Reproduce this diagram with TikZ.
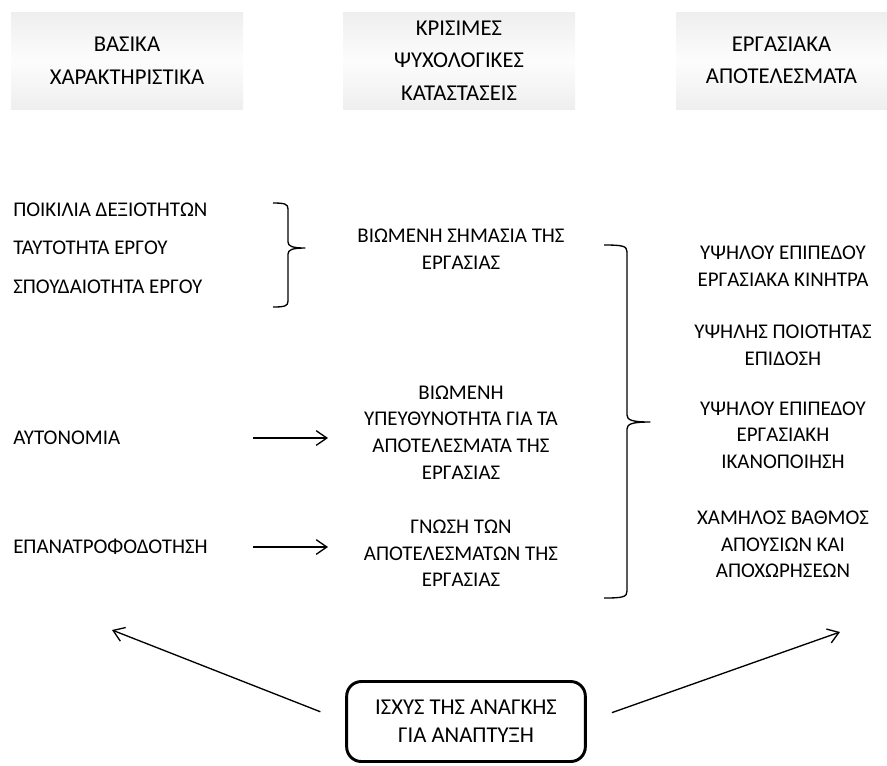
\documentclass[tikz,border=0pt]{standalone}
\usepackage{fontspec}
\setmainfont{Carlito}
\usetikzlibrary{arrows.meta}
\begin{document}
\begin{tikzpicture}[x=0.75pt,y=-0.75pt,
	every node/.style={font=\fontsize{15.7}{20}\selectfont,inner sep=0pt},
	hdr/.style={minimum width=174pt,minimum height=72.75pt,top color=gray!13,bottom color=gray!13,middle color=gray!2},
	htxt/.style={align=center,font=\fontsize{17}{24.4}\selectfont},
	lbl/.style={anchor=west},
	txt/.style={align=center},
	arr/.style={-{Straight Barb[length=8pt,width=11pt]},line width=1pt},
	brc/.style={line width=1pt,line join=round}]
	\useasboundingbox (0,0) rectangle (887,765);
	% Επικεφαλίδες
	\node[hdr] (hbas) at (127,60.5) {};
	\node[hdr] (hkri) at (459,60.5) {};
	\node[hdr,minimum width=158.25pt] (herg) at (781.5,60.5) {};
	\node[htxt] (tbas) at (hbas) {ΒΑΣΙΚΑ\\ΧΑΡΑΚΤΗΡΙΣΤΙΚΑ};
	\node[htxt] (tkri) at (hkri) {ΚΡΙΣΙΜΕΣ\\ΨΥΧΟΛΟΓΙΚΕΣ\\ΚΑΤΑΣΤΑΣΕΙΣ};
	\node[htxt] (terg) at (herg) {ΕΡΓΑΣΙΑΚΑ\\ΑΠΟΤΕΛΕΣΜΑΤΑ};
	% Βασικά χαρακτηριστικά
	\node[lbl] (poik) at (13,210) {ΠΟΙΚΙΛΙΑ ΔΕΞΙΟΤΗΤΩΝ};
	\node[lbl] (tayt) at (13,248) {ΤΑΥΤΟΤΗΤΑ ΕΡΓΟΥ};
	\node[lbl] (spou) at (13,287) {ΣΠΟΥΔΑΙΟΤΗΤΑ ΕΡΓΟΥ};
	\node[lbl] (ayto) at (13,438) {ΑΥΤΟΝΟΜΙΑ};
	\node[lbl] (epan) at (13,547) {ΕΠΑΝΑΤΡΟΦΟΔΟΤΗΣΗ};
	% Ψυχολογικές καταστάσεις
	\node[txt] (shma) at (461,249) {ΒΙΩΜΕΝΗ ΣΗΜΑΣΙΑ ΤΗΣ\\ΕΡΓΑΣΙΑΣ};
	\node[txt] (ypey) at (461,432.5) {ΒΙΩΜΕΝΗ\\ΥΠΕΥΘΥΝΟΤΗΤΑ ΓΙΑ ΤΑ\\ΑΠΟΤΕΛΕΣΜΑΤΑ ΤΗΣ\\ΕΡΓΑΣΙΑΣ};
	\node[txt] (gnos) at (461,553.5) {ΓΝΩΣΗ ΤΩΝ\\ΑΠΟΤΕΛΕΣΜΑΤΩΝ ΤΗΣ\\ΕΡΓΑΣΙΑΣ};
	% Αποτελέσματα
	\node[txt] (kin) at (783,266.5) {ΥΨΗΛΟΥ ΕΠΙΠΕΔΟΥ\\ΕΡΓΑΣΙΑΚΑ ΚΙΝΗΤΡΑ};
	\node[txt] (epi) at (783,345) {ΥΨΗΛΗΣ ΠΟΙΟΤΗΤΑΣ\\ΕΠΙΔΟΣΗ};
	\node[txt] (ikan) at (783,435) {ΥΨΗΛΟΥ ΕΠΙΠΕΔΟΥ\\ΕΡΓΑΣΙΑΚΗ\\ΙΚΑΝΟΠΟΙΗΣΗ};
	\node[txt] (apou) at (783,544.5) {ΧΑΜΗΛΟΣ ΒΑΘΜΟΣ\\ΑΠΟΥΣΙΩΝ ΚΑΙ\\ΑΠΟΧΩΡΗΣΕΩΝ};
	% Ανάγκη για ανάπτυξη
	\node[draw,line width=2.2pt,rounded corners=11pt,minimum width=179pt,minimum height=60pt] (anag) at (466,721.5) {};
	\node[txt,font=\fontsize{17}{21}\selectfont] (tanag) at (anag) {ΙΣΧΥΣ ΤΗΣ ΑΝΑΓΚΗΣ\\ΓΙΑ ΑΝΑΠΤΥΞΗ};
	% Άγκιστρα
	\draw[brc] (273,203) .. controls (285,203) and (288,204) .. (288,209) -- (288,242)
		.. controls (288,246) and (292,248) .. (305,248) .. controls (292,248) and (288,250) .. (288,254)
		-- (288,301) .. controls (288,306) and (285,307) .. (273,307);
	\draw[brc] (604,245) .. controls (623,245) and (627,246) .. (627,252) -- (627,415)
		.. controls (627,420) and (632,422) .. (650,422) .. controls (632,422) and (627,424) .. (627,429)
		-- (627,591) .. controls (627,597) and (623,598) .. (604,598);
	% Βέλη
	\coordinate (a1) at (253,438);
	\coordinate (b1) at (328,438);
	\coordinate (a2) at (253,547);
	\coordinate (b2) at (328,547);
	\coordinate (lt) at (112,630);
	\coordinate (rt) at (840,632);
	\draw[arr] (a1) -- (b1);
	\draw[arr] (a2) -- (b2);
	\draw[arr,shorten <=20pt] (anag.west) -- (lt);
	\draw[arr,shorten <=20pt] (anag.east) -- (rt);
\end{tikzpicture}
\end{document}
